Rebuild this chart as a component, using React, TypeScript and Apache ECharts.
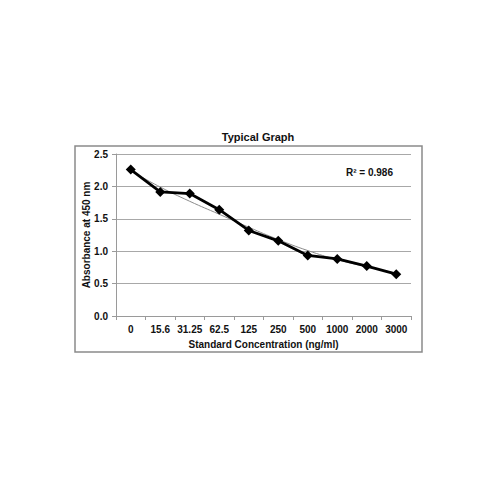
import { useEffect, useRef } from 'react'
import * as echarts from 'echarts'

const categories = ['0', '15.6', '31.25', '62.5', '125', '250', '500', '1000', '2000', '3000']
const absorbance = [2.26, 1.915, 1.89, 1.64, 1.32, 1.16, 0.935, 0.88, 0.77, 0.645]
// grey trendline
const trend = [2.24, 1.99, 1.77, 1.57, 1.37, 1.18, 1.01, 0.87, 0.76, 0.66]
const yTicks = { min: 0, max: 2.5, interval: 0.5 }
const rSquared = 'R² = 0.986'

const FONT = '"Liberation Sans", Arial, sans-serif'

export default function App() {
  const ref = useRef<HTMLDivElement | null>(null)

  useEffect(() => {
    if (!ref.current) {
      return
    }
    const chart = echarts.init(ref.current, undefined, { renderer: 'svg' })

    chart.setOption({
      animation: false,
      backgroundColor: '#ffffff',
      textStyle: { fontFamily: FONT },
      title: {
        text: 'Typical Graph',
        left: 253,
        top: 126,
        textAlign: 'center',
        textStyle: { fontSize: 11, fontWeight: 'bold', color: '#111', fontFamily: FONT },
      },
      graphic: [
        {
          type: 'rect',
          shape: { x: 75, y: 146, width: 347, height: 206 },
          style: { fill: 'none', stroke: '#8a8a8a', lineWidth: 1.5 },
          z: -1,
        },
        {
          type: 'text',
          left: 346,
          top: 167,
          style: {
            text: rSquared,
            fontSize: 10,
            fontWeight: 'bold',
            fontFamily: FONT,
            fill: '#111',
          },
        },
      ],
      grid: { left: 116, right: 89, top: 154, bottom: 184 },
      xAxis: {
        type: 'category',
        data: categories,
        boundaryGap: true,
        name: 'Standard Concentration (ng/ml)',
        nameLocation: 'middle',
        nameGap: 23,
        nameMoveOverlap: false,
        nameTextStyle: { fontSize: 10, fontWeight: 'bold', color: '#111', fontFamily: FONT },
        axisLine: { lineStyle: { color: '#9a9a9a', width: 1 } },
        axisTick: { show: true, length: 4, lineStyle: { color: '#9a9a9a' } },
        axisLabel: { fontSize: 10, fontWeight: 'bold', color: '#111', margin: 8, interval: 0, fontFamily: FONT },
        splitLine: { show: false },
      },
      yAxis: {
        type: 'value',
        min: yTicks.min,
        max: yTicks.max,
        interval: yTicks.interval,
        name: 'Absorbance at 450 nm',
        nameLocation: 'middle',
        nameGap: 25,
        nameMoveOverlap: false,
        nameTextStyle: { fontSize: 10, fontWeight: 'bold', color: '#111', fontFamily: FONT },
        axisLine: { show: true, lineStyle: { color: '#9a9a9a', width: 1 } },
        axisTick: { show: true, length: 4, lineStyle: { color: '#9a9a9a' } },
        axisLabel: {
          fontSize: 10,
          fontWeight: 'bold',
          color: '#111',
          margin: 8,
          fontFamily: FONT,
          formatter: (v: number) => v.toFixed(1),
        },
        splitLine: { lineStyle: { color: '#a8a8a8', width: 1.2 } },
      },
      series: [
        {
          name: 'Trend',
          type: 'line',
          data: trend,
          smooth: true,
          symbol: 'none',
          lineStyle: { color: '#8c8c8c', width: 1 },
          z: 1,
        },
        {
          name: 'Absorbance',
          type: 'line',
          data: absorbance,
          symbol: 'diamond',
          symbolSize: 10,
          itemStyle: { color: '#000' },
          lineStyle: { color: '#000', width: 2.8 },
          z: 2,
        },
      ],
    })

    return () => {
      chart.dispose()
    }
  }, [])

  return (
    <div
      ref={ref}
      style={{ position: 'absolute', left: 0, top: 0, width: 500, height: 500 }}
    />
  )
}
